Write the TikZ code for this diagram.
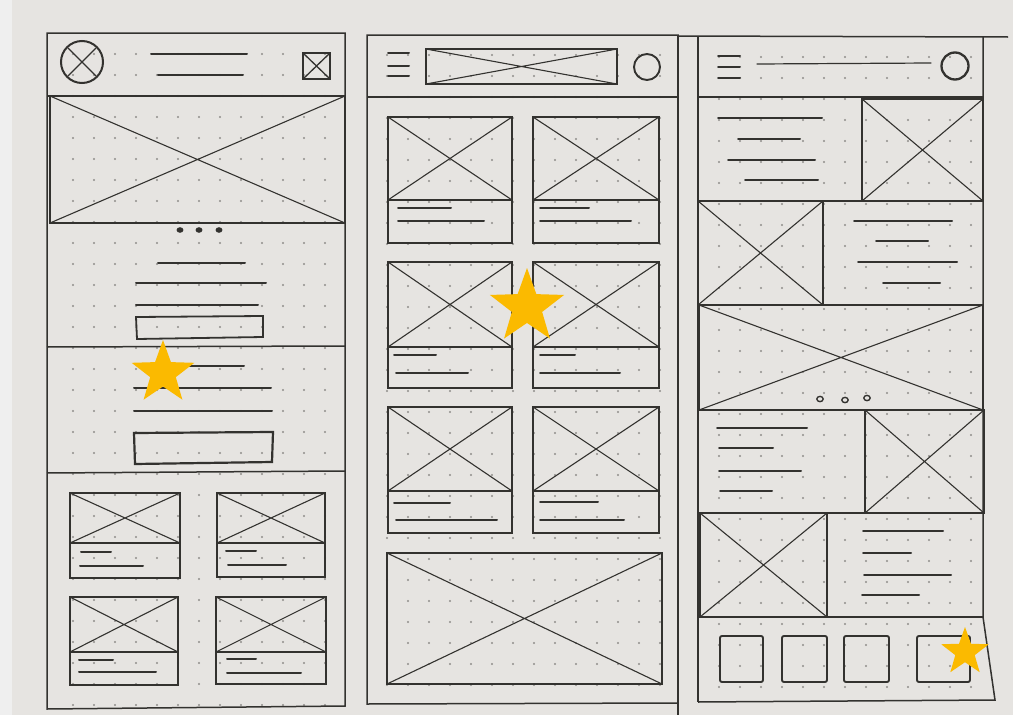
\documentclass[tikz,border=0pt]{standalone}
\usetikzlibrary{shapes.geometric}
\definecolor{paper}{HTML}{E6E4E1}
\definecolor{strip}{HTML}{EFEFEF}
\definecolor{ink}{HTML}{33322F}
\definecolor{dotc}{HTML}{8F8D8A}
\definecolor{gold}{HTML}{FBBA00}
\tikzset{
  frame/.style={draw=ink,line width=1.5pt},
  cross/.style={draw=ink,line width=1.1pt},
  txt/.style={draw=ink,line width=2.0pt,line cap=round},
  thintxt/.style={draw=ink,line width=1.2pt,line cap=round},
  goldstar/.style={star,star points=5,star point ratio=2.45,fill=gold,draw=none,inner sep=0pt},
  dot/.style={fill=dotc},
}
\newcommand\wfimg[4]{\draw[frame] (#1,#2) rectangle (#3,#4); \draw[cross] (#1,#2)--(#3,#4) (#1,#4)--(#3,#2);}
\newcommand\wfline[3]{\draw[txt] (#1,#3)--(#2,#3);}
\newcommand\wfdots[6]{\begin{scope}\clip (#1,#2) rectangle (#3,#4);
  \foreach \i in {0,...,15} {\foreach \j in {0,...,32} {\fill[dot] (#5+21*\i,#6+21*\j) circle (1.2);}}\end{scope}}
\begin{document}
\begin{tikzpicture}[x=1pt,y=-1pt]
\useasboundingbox (0,0) rectangle (1013,715);
\fill[paper] (0,0) rectangle (1013,715);
\fill[strip] (0,0) rectangle (12,715);

% ---------- dot grids ----------
\wfdots{48}{34}{345}{707}{73}{54}
\wfdots{368}{36}{678}{703}{366}{55}
\wfdots{699}{37}{983}{700}{719}{57}

% ================= PANEL 1 =================
\draw[frame] (47,33) -- (345,33) -- (345,706) -- (47,709) -- cycle;
\draw[frame] (47,96) -- (345,96);
% header
\draw[ink,line width=2.0pt] (82,62) circle (21);
\draw[ink,line width=1.4pt] (68,48) -- (96,76) (96,48) -- (68,76);
\draw[txt] (151,54) -- (247,54);
\draw[txt] (158,75) -- (243,75);
\draw[ink,line width=1.7pt] (303,53) rectangle (330,79);
\draw[ink,line width=1.3pt] (303,53) -- (330,79) (330,53) -- (303,79);
% hero
\wfimg{50}{96}{345}{223}
\foreach \x in {180,199,219} \fill[ink] (\x,230) ellipse (3.4 and 2.8);
% section 2
\wfline{158}{245}{263}
\wfline{136}{266}{283}
\wfline{136}{258}{305}
\draw[ink,line width=1.8pt] (136,317) -- (263,316) -- (263,337) -- (137,339) -- cycle;
\draw[frame] (47,347) -- (345,346);
% section 3
\wfline{175}{244}{366}
\wfline{134}{271}{388}
\wfline{134}{272}{411}
\draw[ink,line width=2.2pt] (134,433) -- (273,432) -- (272,462) -- (135,464) -- cycle;
\draw[frame] (47,473) -- (345,471);
% cards
\wfimg{70}{493}{180}{543}
\draw[frame] (70,543) rectangle (180,578);
\wfline{81}{111}{552} \wfline{80}{143}{566}
\wfimg{217}{493}{325}{543}
\draw[frame] (217,543) rectangle (325,577);
\wfline{226}{256}{551} \wfline{228}{286}{565}
\wfimg{70}{597}{178}{652}
\draw[frame] (70,652) rectangle (178,685);
\wfline{79}{113}{660} \wfline{79}{156}{672}
\wfimg{216}{597}{326}{652}
\draw[frame] (216,652) rectangle (326,684);
\wfline{227}{256}{659} \wfline{227}{301}{673}

% ================= PANEL 2 =================
\draw[frame] (367,35) -- (678,35) -- (678,703) -- (367,704) -- cycle;
\draw[frame] (367,97) -- (678,97);
\wfline{388}{409}{53} \wfline{388}{409}{66} \wfline{388}{409}{76}
\wfimg{426}{49}{617}{84}
\draw[ink,line width=1.9pt] (647,67) circle (13);
% card grid
\foreach \cx/\cw in {388/124,533/126} {
  \foreach \cy/\ib/\cb in {117/200/243, 262/347/388, 407/491/533} {
    \wfimg{\cx}{\cy}{\cx+\cw}{\ib}
    \draw[frame] (\cx,\ib) rectangle (\cx+\cw,\cb);
  }
}
\wfline{398}{451}{208} \wfline{398}{484}{221}
\wfline{540}{589}{208} \wfline{540}{631}{221}
\wfline{394}{436}{355} \wfline{396}{468}{373}
\wfline{540}{575}{355} \wfline{540}{620}{373}
\wfline{394}{450}{503} \wfline{396}{497}{520}
\wfline{540}{598}{502} \wfline{540}{624}{520}
\wfimg{387}{553}{662}{684}

% ================= PANEL 3 =================
\draw[frame] (678,36) -- (1008,37);
\draw[frame] (678,36) -- (678,715);
\draw[frame] (698,36) -- (698,702);
\draw[frame] (983,36) -- (983,617) -- (995,700) -- (698,702);
\draw[frame] (698,97) -- (983,97);
\wfline{718}{740}{56} \wfline{718}{740}{67} \wfline{718}{740}{78}
\draw[thintxt] (757,64) -- (931,63);
\draw[ink,line width=2.3pt] (955,66) circle (13.5);
% row A
\wfimg{862}{99}{983}{201}
\wfline{718}{822}{118} \wfline{738}{800}{139} \wfline{728}{815}{160} \wfline{745}{818}{180}
\draw[frame] (698,201) -- (983,201);
% row B
\wfimg{698}{201}{823}{305}
\wfline{854}{952}{221} \wfline{876}{928}{241} \wfline{858}{957}{262} \wfline{883}{940}{283}
\draw[frame] (698,305) -- (983,305);
% row C
\wfimg{699}{305}{983}{410}
\foreach \x/\y in {820/399,845/400,867/398} \draw[ink,line width=1.4pt] (\x,\y) ellipse (3.2 and 2.6);
% row D
\wfimg{865}{410}{984}{513}
\wfline{717}{807}{428} \wfline{719}{773}{448} \wfline{719}{801}{471} \wfline{720}{772}{491}
\draw[frame] (698,513) -- (983,513);
% row E
\wfimg{700}{513}{827}{617}
\wfline{863}{943}{531} \wfline{863}{911}{553} \wfline{864}{951}{575} \wfline{862}{919}{595}
\draw[frame] (698,617) -- (983,617);
% footer squares
\foreach \a/\b in {720/763, 782/827, 844/889, 917/970}
  \draw[ink,line width=1.9pt,rounded corners=2pt] (\a,636) rectangle (\b,682);

% ---------- stars ----------
\node[goldstar,minimum size=66] (s1) at (163,373) {};
\node[goldstar,minimum size=78] (s2) at (527,307) {};
\node[goldstar,minimum size=50] (s3) at (965,652) {};
\end{tikzpicture}
\end{document}
